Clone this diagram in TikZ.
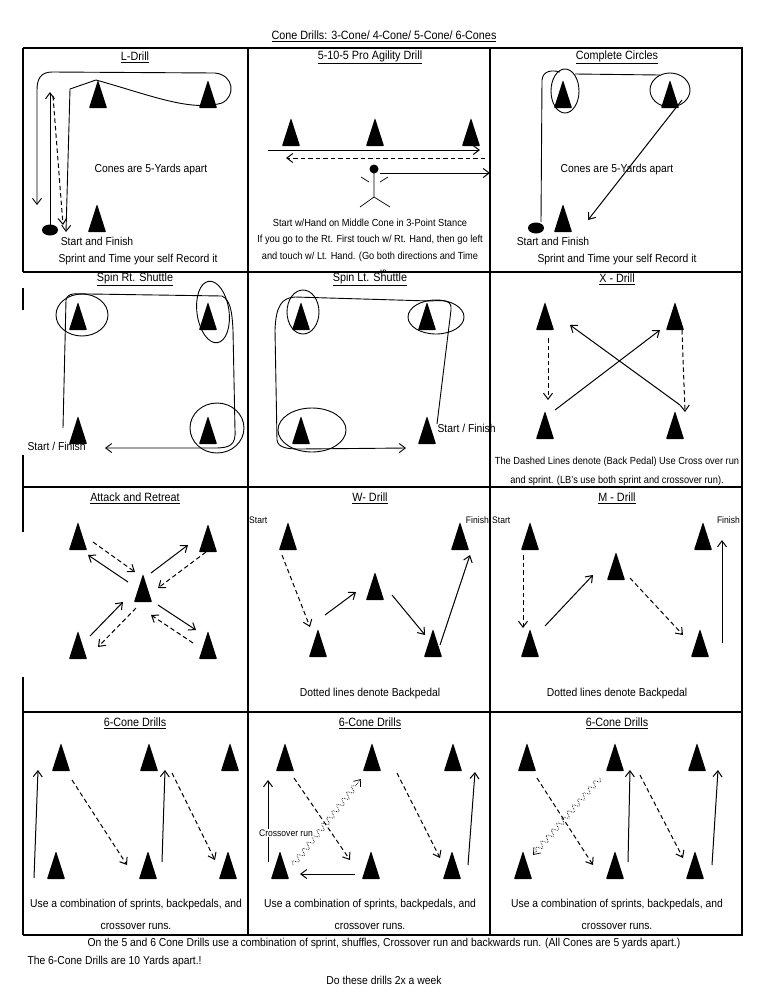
\documentclass[tikz,border=0pt]{standalone}
\usepackage{fontspec}
\setmainfont[FakeStretch=0.9]{Liberation Sans}
\usetikzlibrary{arrows.meta,decorations.pathmorphing}
\newcommand\conexy[2]{\fill[rounded corners=0.8pt] (#1-9,#2+14) -- (#1+9,#2+14) -- (#1,#2-14) -- cycle;}
\tikzset{
  ttl/.style={font=\fontsize{12}{13}\selectfont},
  txt/.style={font=\fontsize{11.5}{13}\selectfont},
  txs/.style={font=\fontsize{10.3}{12}\selectfont},
  sml/.style={font=\fontsize{9.5}{10}\selectfont},
  tip/.style={-{Straight Barb[length=6pt,width=9pt]}},
  run/.style={line width=1pt,tip},
  back/.style={run,dash pattern=on 4.5pt off 3pt},
  path1/.style={line width=0.9pt},
  border/.style={line width=2.2pt},
  cross/.style={line width=0.7pt,densely dotted,decorate,decoration={snake,amplitude=3pt,segment length=8pt,post length=5pt},tip}
}
\begin{document}
\begin{tikzpicture}[x=1pt,y=-1pt]
\useasboundingbox (0,0) rectangle (768,994);
% title
\node[ttl] (title) at (384,36) {\underline{Cone Drills: 3-Cone/ 4-Cone/ 5-Cone/ 6-Cones}};
% grid
\draw[border] (23,48) -- (742,48) -- (742,935) -- (23,935);
\draw[border] (23,48) -- (23,272);
\draw[border] (23,288) -- (23,310);
\draw[border] (23,455) -- (23,532);
\draw[border] (23,677) -- (23,935);
\foreach \y in {272,487,712} \draw[border] (23,\y) -- (742,\y);
\foreach \x in {248,490} \draw[border] (\x,48) -- (\x,935);

% ---- L-Drill
\node[ttl] (t1) at (135,57) {\underline{L-Drill}};
\conexy{98}{94}\conexy{208}{94}\conexy{97}{218}
\fill (50,230) ellipse (8 and 5.5);
\draw[run] (50,225) -- (50,92);
\draw[back] (53,96) -- (63,225);
\draw[path1,tip] (96,80) .. controls (150,95) and (190,112) .. (222,103) .. controls (236,96) and (234,75) .. (215,73) -- (52,72) .. controls (40,72) and (37,80) .. (37,90) -- (37,205);
\draw[path1,tip] (96,80) -- (70,89) -- (66,232);
\node[txt] (l1) at (151,170) {Cones are 5-Yards apart};
\node[txt] (l2) at (97,241) {Start and Finish};
\node[txt] (l3) at (138,260) {Sprint and Time your self Record it};

% ---- 5-10-5
\node[ttl] (t2) at (370,57) {\underline{5-10-5 Pro Agility Drill}};
\conexy{291}{132}\conexy{375}{132}\conexy{471}{132}
\draw[run] (268,150) -- (480,150);
\draw[back] (485,158) -- (286,158);
\fill (374,169) circle (4.5);
\draw[line width=0.7pt] (374,172) -- (374,197) (360,207) -- (374,197) -- (390,207) (361,177) -- (369,182) (380,182) -- (388,177);
\draw[run] (380,173) -- (490,173);
\node[txs] (f1) at (370,223) {Start w/Hand on Middle Cone in 3-Point Stance};
\node[txs] (f2) at (370,240) {If you go to the Rt. First touch w/ Rt. Hand, then go left};
\node[txs] (f3) at (370,257) {and touch w/ Lt. Hand. (Go both directions and Time};
\begin{scope}
\clip (250,267) rectangle (488,271);
\node[txs,inner sep=0pt] (f4) at (370,275) {yourself)};
\end{scope}

% ---- Complete circles
\node[ttl] (t3) at (617,57) {\underline{Complete Circles}};
\conexy{563}{94}\conexy{670}{94}\conexy{563}{218}
\fill (536,228) ellipse (8 and 5.5);
\draw[path1] (541,222) -- (542,80) .. controls (543,70) and (553,70) .. (560,72);
\draw[path1] (565,91) ellipse (14 and 22);
\draw[path1] (670,90) ellipse (20 and 17);
\draw[path1] (575,74) -- (660,75);
\draw[run] (682,100) -- (588,220);
\node[txt] (c1) at (617,170) {Cones are 5-Yards apart};
\node[txt] (c2) at (553,241) {Start and Finish};
\node[txt] (c3) at (617,260) {Sprint and Time your self Record it};

% ---- Spin Rt. Shuttle
\node[ttl] (t4) at (135,279) {\underline{Spin Rt. Shuttle}};
\conexy{78}{316}\conexy{208}{316}\conexy{78}{430}\conexy{208}{430}
\draw[path1] (82,315) ellipse (26 and 21);
\draw[path1,rotate around={8:(213,312)}] (213,312) ellipse (16 and 31);
\draw[path1] (217,428) ellipse (27 and 25);
\draw[path1,tip] (63,428) -- (66,300) .. controls (68,292) and (75,294) .. (90,294) -- (222,296) .. controls (230,300) and (232,310) .. (233,330) -- (235,430) .. controls (236,445) and (230,448) .. (215,448) -- (105,448);
\node[txt,anchor=west] (s1) at (24,446) {Start / Finish};

% ---- Spin Lt. Shuttle
\node[ttl] (t5) at (370,279) {\underline{Spin Lt. Shuttle}};
\conexy{301}{316}\conexy{427}{316}\conexy{301}{430}\conexy{427}{430}
\draw[path1] (303,312) ellipse (16 and 22);
\draw[path1] (436,317) ellipse (28 and 17);
\draw[path1] (312,430) ellipse (34 and 22);
\draw[path1,tip] (437,424) -- (451,310) .. controls (452,300) and (445,300) .. (430,301) -- (295,297) .. controls (282,298) and (276,305) .. (275,330) -- (277,440) .. controls (278,448) and (288,449) .. (300,449) -- (406,448);
\node[txt,anchor=west] (s2) at (434,428) {Start / Finish};

% ---- X-Drill
\node[ttl] (t6) at (617,279) {\underline{X - Drill}};
\conexy{545}{316}\conexy{675}{316}\conexy{545}{425}\conexy{675}{425}
\draw[back] (548,338) -- (548,400);
\draw[back] (682,330) -- (685,412);
\draw[run] (555,410) -- (660,330);
\draw[run] (680,405) -- (570,325);
\node[txs] (x1) at (617,462) {The Dashed Lines denote (Back Pedal) Use Cross over run};
\node[txs] (x2) at (617,481) {and sprint. (LB's use both sprint and crossover run).};

% ---- Attack and Retreat
\node[ttl] (t7) at (135,498) {\underline{Attack and Retreat}};
\conexy{78}{536}\conexy{208}{538}\conexy{143}{588}\conexy{78}{645}\conexy{208}{645}
\draw[back] (93,542) -- (135,572);
\draw[run] (128,582) -- (88,555);
\draw[run] (151,573) -- (188,545);
\draw[back] (206,552) -- (158,588);
\draw[run] (90,636) -- (123,602);
\draw[back] (136,608) -- (98,647);
\draw[run] (158,605) -- (196,630);
\draw[back] (193,643) -- (151,615);

% ---- W-Drill
\node[ttl] (t8) at (370,498) {\underline{W- Drill}};
\conexy{288}{536}\conexy{318}{643}\conexy{375}{586}\conexy{433}{643}\conexy{460}{536}
\node[sml,anchor=west,inner sep=1pt] (w1) at (248,520) {Start};
\node[sml,anchor=east,inner sep=1pt] (w2) at (490,520) {Finish};
\draw[back] (282,555) -- (310,627);
\draw[run] (325,615) -- (356,592);
\draw[run] (392,595) -- (425,635);
\draw[run] (440,645) -- (470,555);
\node[txt] (w3) at (370,694) {Dotted lines denote Backpedal};

% ---- M-Drill
\node[ttl] (t9) at (617,498) {\underline{M - Drill}};
\conexy{530}{536}\conexy{616}{566}\conexy{530}{643}\conexy{700}{643}\conexy{703}{536}
\node[sml,anchor=west,inner sep=1pt] (m1) at (491,520) {Start};
\node[sml,anchor=east,inner sep=1pt] (m2) at (741,520) {Finish};
\draw[back] (523,555) -- (523,628);
\draw[run] (545,626) -- (593,575);
\draw[back] (630,578) -- (683,635);
\draw[run] (722,643) -- (722,540);
\node[txt] (m3) at (617,694) {Dotted lines denote Backpedal};

% ---- 6-Cone 1
\node[ttl] (t10) at (135,723) {\underline{6-Cone Drills}};
\conexy{61}{757}\conexy{149}{757}\conexy{230}{757}
\conexy{56}{865}\conexy{148}{865}\conexy{228}{865}
\draw[run] (34,878) -- (38,770);
\draw[back] (72,780) -- (127,865);
\draw[run] (162,862) -- (165,770);
\draw[back] (172,773) -- (215,860);
\node[txt] (a1) at (136,905) {Use a combination of sprints, backpedals, and};
\node[txt] (a2) at (136,926) {crossover runs.};

% ---- 6-Cone 2
\node[ttl] (t11) at (370,723) {\underline{6-Cone Drills}};
\conexy{285}{757}\conexy{372}{757}\conexy{453}{757}
\conexy{280}{865}\conexy{371}{865}\conexy{452}{865}
\draw[run] (268,862) -- (268,780);
\draw[back] (294,778) -- (350,860);
\draw[cross] (293,865) -- (361,779);
\draw[run] (355,874) -- (300,874);
\draw[back] (397,773) -- (440,858);
\draw[run] (468,865) -- (475,772);
\node[sml,fill=white,inner sep=0.5pt] (b0) at (286,833) {Crossover run};
\node[txt] (b1) at (370,905) {Use a combination of sprints, backpedals, and};
\node[txt] (b2) at (370,926) {crossover runs.};

% ---- 6-Cone 3
\node[ttl] (t12) at (617,723) {\underline{6-Cone Drills}};
\conexy{527}{757}\conexy{615}{757}\conexy{697}{757}
\conexy{523}{865}\conexy{615}{865}\conexy{695}{865}
\draw[back] (537,778) -- (593,865);
\draw[cross] (600,778) -- (533,855);
\draw[run] (628,862) -- (630,770);
\draw[back] (640,775) -- (683,858);
\draw[run] (712,865) -- (718,770);
\node[txt] (c31) at (617,905) {Use a combination of sprints, backpedals, and};
\node[txt] (c32) at (617,926) {crossover runs.};

% ---- footer
\node[txt] (n1) at (384,944) {On the 5 and 6 Cone Drills use a combination of sprint, shuffles, Crossover run and backwards run. (All Cones are 5 yards apart.)};
\node[txt,anchor=west] (n2) at (24,962) {The 6-Cone Drills are 10 Yards apart.!};
\node[txt] (n3) at (384,980) {Do these drills 2x a week};
\end{tikzpicture}
\end{document}
